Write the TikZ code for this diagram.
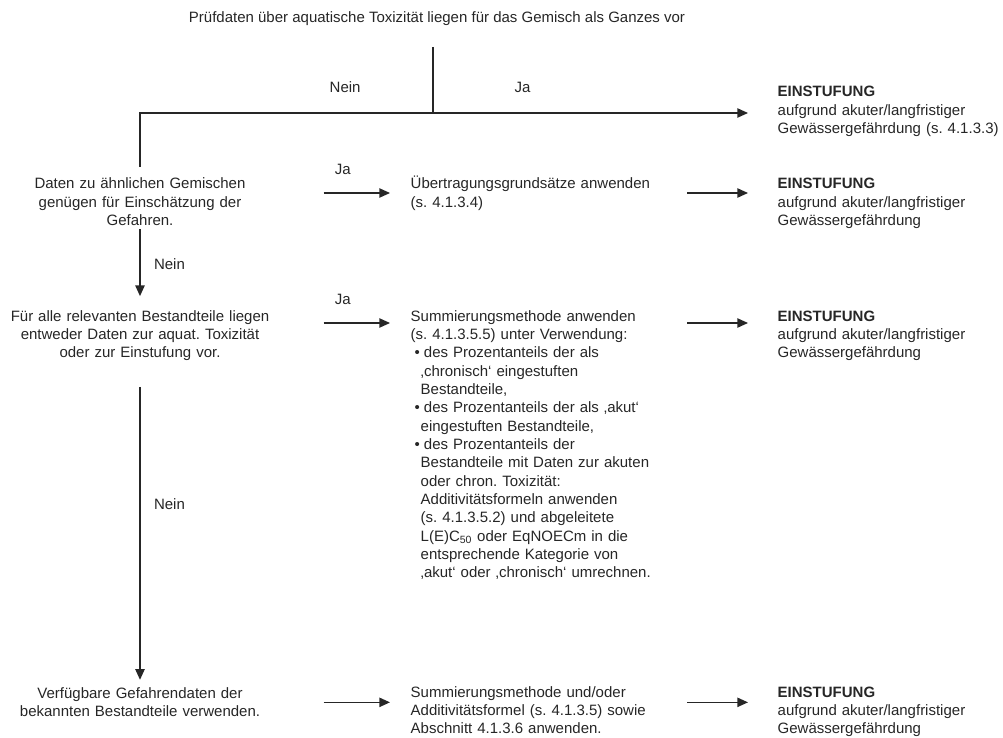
\documentclass[tikz,border=0pt]{standalone}
\usepackage{fontspec}
\setmainfont{Liberation Sans}
\usetikzlibrary{arrows.meta, positioning, calc}

\newcommand{\punkt}{\hspace*{3pt}\textbullet\hspace{3pt}}
\newcommand{\weiter}{\hspace*{7.5pt}}
\frenchspacing

\begin{document}
\begin{tikzpicture}[
  x=0.75pt, y=-0.75pt, line width=1pt, color=black!85,
  every node/.style={inner sep=0pt, font=\fontsize{11.25}{13.75}\selectfont},
  links/.style={anchor=base, text width=210pt, align=center},
  mitte/.style={anchor=base west, text width=207pt, align=left},
  rechts/.style={anchor=base west, text width=180pt, align=left},
  pfeil/.style={-{Triangle[length=8pt, width=7pt]}}
]
  \useasboundingbox (0,0) rectangle (1003,738);

  % Ausgangsfrage
  \node[anchor=base] (titel) at (437,23) {Prüfdaten über aquatische Toxizität liegen für das Gemisch als Ganzes vor};
  \coordinate (knoten) at (433,113);
  \coordinate (ecke) at (140,113);

  % Linke Spalte
  \node[links] (dat) at (140,189) {Daten zu ähnlichen Gemischen\\genügen für Einschätzung der\\Gefahren.};
  \node[links] (bes) at (140,321) {Für alle relevanten Bestandteile liegen\\entweder Daten zur aquat. Toxizität\\oder zur Einstufung vor.};
  \node[links] (ver) at (140,698) {Verfügbare Gefahrendaten der\\bekannten Bestandteile verwenden.};

  % Mittlere Spalte
  \node[mitte] (ueb) at (410,189) {Übertragungsgrundsätze anwenden\\(s. 4.1.3.4)};
  \node[mitte] (sum) at (410,321) {Summierungsmethode anwenden\\
    (s. 4.1.3.5.5) unter Verwendung:\\
    \punkt des Prozentanteils der als\\
    \weiter ‚chronisch‘ eingestuften\\
    \weiter Bestandteile,\\
    \punkt des Prozentanteils der als ‚akut‘\\
    \weiter eingestuften Bestandteile,\\
    \punkt des Prozentanteils der\\
    \weiter Bestandteile mit Daten zur akuten\\
    \weiter oder chron. Toxizität:\\
    \weiter Additivitätsformeln anwenden\\
    \weiter (s. 4.1.3.5.2) und abgeleitete\\
    \weiter L(E)C\textsubscript{50} oder EqNOECm in die\\
    \weiter entsprechende Kategorie von\\
    \weiter ‚akut‘ oder ‚chronisch‘ umrechnen.};
  \node[mitte] (add) at (410,697) {Summierungsmethode und/oder\\Additivitätsformel (s. 4.1.3.5) sowie\\Abschnitt 4.1.3.6 anwenden.};

  % Rechte Spalte
  \node[rechts] (ein1) at (777,97) {\textbf{EINSTUFUNG}\\aufgrund akuter/langfristiger\\Gewässergefährdung (s. 4.1.3.3)};
  \node[rechts] (ein2) at (777,189) {\textbf{EINSTUFUNG}\\aufgrund akuter/langfristiger\\Gewässergefährdung};
  \node[rechts] (ein3) at (777,321) {\textbf{EINSTUFUNG}\\aufgrund akuter/langfristiger\\Gewässergefährdung};
  \node[rechts] (ein4) at (777,697) {\textbf{EINSTUFUNG}\\aufgrund akuter/langfristiger\\Gewässergefährdung};

  % Verbindungen oben
  \draw[shorten <=15pt] (titel.south -| knoten) -- (knoten);
  \draw[shorten >=7.5pt] (knoten) -- node[pos=.3, above=15pt] {Nein} (ecke) -- (dat.north);
  \draw[pfeil, shorten >=21.75pt] (knoten) -- node[pos=.26, above=15pt] {Ja} (knoten -| ein1.west);

  % Pfeile nach rechts
  \draw[pfeil, shorten <=32.25pt, shorten >=15pt] ([yshift=-3pt]dat.base east) -- node[pos=.48, above=13pt] {Ja} ([yshift=-3pt]ueb.base west);
  \draw[pfeil, shorten >=21.75pt] ([yshift=-3pt]ueb.base east) -- ([yshift=-3pt]ein2.base west);
  \draw[pfeil, shorten <=32.25pt, shorten >=15pt] ([yshift=-1.5pt]bes.base east) -- node[pos=.48, above=13pt] {Ja} ([yshift=-1.5pt]sum.base west);
  \draw[pfeil, shorten >=21.75pt] ([yshift=-1.5pt]sum.base east) -- ([yshift=-1.5pt]ein3.base west);
  \draw[pfeil, shorten <=32.25pt, shorten >=15pt] ([yshift=-4pt]add.base west -| ver.east) -- ([yshift=-4pt]add.base west);
  \draw[pfeil, shorten >=21.75pt] ([yshift=-4pt]add.base east) -- ([yshift=-4pt]ein4.base west);

  % Pfeile nach unten
  \draw[pfeil, shorten <=2pt, shorten >=10pt] (dat.south) -- node[pos=.45, right=10pt] {Nein} (bes.north);
  \draw[pfeil, shorten <=19pt, shorten >=5pt] (bes.south) -- node[pos=.44, right=10pt] {Nein} (ver.north);
\end{tikzpicture}
\end{document}
